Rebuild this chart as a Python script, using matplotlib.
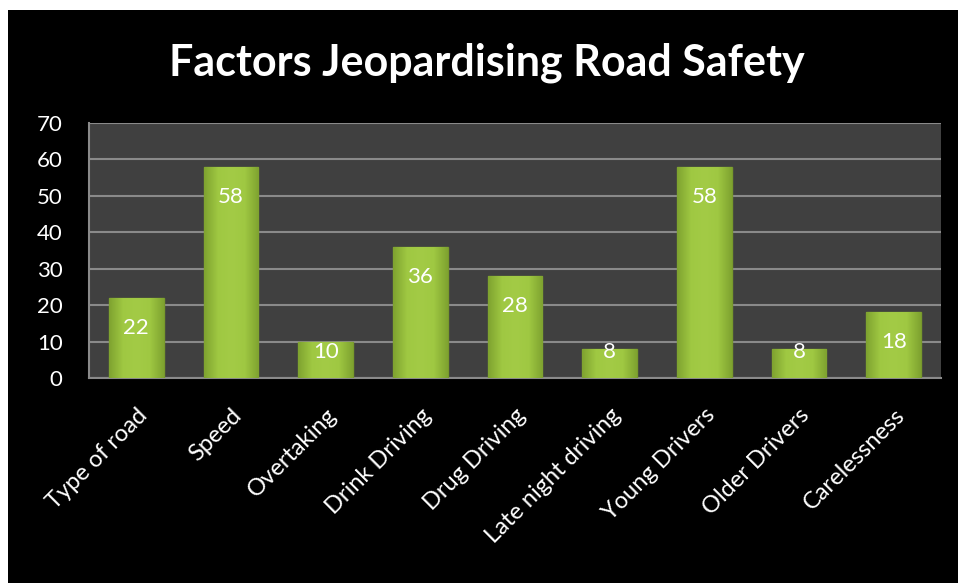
import numpy as np
import matplotlib.pyplot as plt
from matplotlib.patches import Rectangle
from matplotlib.colors import LinearSegmentedColormap

# Chart data
factors = ["Type of road", "Speed", "Overtaking", "Drink Driving", "Drug Driving",
           "Late night driving", "Young Drivers", "Older Drivers", "Carelessness"]
counts = [22, 58, 10, 36, 28, 8, 58, 8, 18]
y_ticks = [0, 10, 20, 30, 40, 50, 60, 70]

plt.rcParams["font.family"] = ["Lato", "DejaVu Sans"]

fig = plt.figure(figsize=(9.58, 5.83), dpi=100, facecolor="white")
# black chart background with a thin white margin on the top and left
fig.patches.append(Rectangle((8 / 958, 0), 1, 1 - 10 / 583, transform=fig.transFigure,
                             facecolor="black", edgecolor="none", zorder=-5))

ax = fig.add_axes([89 / 958, 1 - 378 / 583, (941 - 89) / 958, (378 - 123) / 583])
ax.set_facecolor("#404040")

x = range(len(factors))
bars = ax.bar(x, counts, width=0.58, color="#9cc43e", edgecolor="#78992c", linewidth=1.0, zorder=3)

# soft bevel look: darker at the sides, lighter in the middle
green = LinearSegmentedColormap.from_list("bevel", ["#7fa330", "#9fc842", "#a3cb46", "#9fc842", "#7fa330"])
grad = np.linspace(0, 1, 64).reshape(1, -1)
for b in bars:
    bx, by = b.get_x(), b.get_y()
    im = ax.imshow(grad, cmap=green, aspect="auto", zorder=3.5,
                   extent=[bx, bx + b.get_width(), by, by + b.get_height()])
    im.set_clip_path(b)

# value labels near the top of each bar
for i, v in enumerate(counts):
    ax.text(i, max(v - 8.2, 7.1), str(v), ha="center", va="center",
            color="white", fontsize=16, zorder=4)

ax.set_xlim(-0.5, len(factors) - 0.5)
ax.set_ylim(0, 70)
ax.set_yticks(y_ticks)
ax.yaxis.grid(True, color="#8a8a8a", linewidth=1.5, zorder=1)
ax.set_axisbelow(True)

for side in ["top", "right"]:
    ax.spines[side].set_visible(False)
ax.spines["left"].set_color("#8a8a8a")
ax.spines["bottom"].set_color("#8a8a8a")
ax.spines["left"].set_linewidth(1.5)
ax.spines["bottom"].set_linewidth(1.5)

ax.tick_params(axis="y", length=0, pad=19, labelcolor="white", labelsize=16)
ax.tick_params(axis="x", length=0, pad=19, labelcolor="white", labelsize=17)
ax.set_xticks(list(x))
ax.set_xticklabels(factors, rotation=45, ha="right", rotation_mode="anchor")

fig.text(0.508, 1 - 63 / 583, "Factors Jeopardising Road Safety", ha="center", va="center",
         color="white", fontsize=31, fontweight="bold")

plt.savefig("out.png", dpi=100, facecolor=fig.get_facecolor())
